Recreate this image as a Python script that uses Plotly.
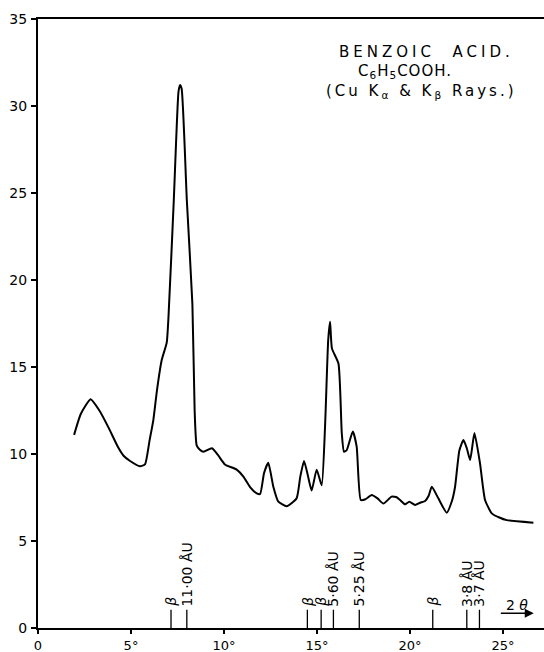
import plotly.graph_objects as go

# ---- data ----
two_theta = [1.94, 2.3, 2.83, 3.3, 3.8, 4.3, 4.6, 4.95, 5.48, 5.75, 6.0, 6.2, 6.4, 6.65, 6.92,
             7.02, 7.3, 7.55, 7.63, 7.72, 8.0, 8.3, 8.42, 8.53, 8.7, 8.9, 9.35, 9.7, 10.05,
             10.68, 11.04, 11.4, 11.76, 11.94, 12.15, 12.38, 12.65, 12.92, 13.37, 13.9, 14.1,
             14.3, 14.5, 14.71, 14.98, 15.25, 15.43, 15.6, 15.7, 15.8, 16.15, 16.33, 16.45,
             16.6, 16.92, 17.13, 17.35, 17.6, 17.94, 18.25, 18.57, 19.01, 19.3, 19.46, 19.73,
             19.96, 20.27, 20.54, 20.81, 21.0, 21.17, 21.52, 21.97, 22.25, 22.42, 22.65, 22.87,
             23.05, 23.23, 23.46, 23.76, 24.03, 24.39, 24.8, 25.2, 26.63]
intensity = [11.1, 12.3, 13.15, 12.5, 11.5, 10.4, 9.9, 9.6, 9.3, 9.4, 10.8, 11.95, 13.7, 15.4, 16.4,
             18.0, 24.6, 30.8, 31.2, 31.0, 24.6, 18.6, 12.5, 10.5, 10.25, 10.13, 10.33, 9.9, 9.4,
             9.1, 8.7, 8.1, 7.74, 7.7, 8.9, 9.5, 8.12, 7.26, 7.0, 7.45, 8.7,
             9.6, 8.8, 7.9, 9.1, 8.2, 11.57, 16.55, 17.6, 16.07, 15.2, 11.19, 10.13,
             10.23, 11.3, 10.42, 7.36, 7.4, 7.65, 7.45, 7.15, 7.55, 7.5, 7.36, 7.11,
             7.26, 7.07, 7.2, 7.3, 7.6, 8.12, 7.45, 6.63, 7.3, 8.12, 10.2, 10.8,
             10.33, 9.66, 11.2, 9.46, 7.36, 6.59, 6.35, 6.2, 6.05]

line_positions = [7.15, 8.0, 14.48, 15.22, 15.88, 17.27, 21.22, 23.05, 23.73]
line_labels = ["β", "11·00 ÅU", "β", "β", "5·60 ÅU", "5·25 ÅU", "β", "3·8 ÅU", "3·7 ÅU"]

x_tickvals = [0, 5, 10, 15, 20, 25]
x_ticktext = ["0", "5°", "10°", "15°", "20°", "25°"]
y_tickvals = [0, 5, 10, 15, 20, 25, 30, 35]

FONT = "DejaVu Sans"
MARK_H = 1.05

fig = go.Figure()
fig.add_trace(go.Scatter(x=two_theta, y=intensity, mode="lines",
                         line=dict(color="black", width=2, shape="spline", smoothing=0.5),
                         hoverinfo="skip", showlegend=False))

seg_x, seg_y = [], []
for p in line_positions:
    seg_x += [p, p, None]
    seg_y += [0, MARK_H, None]
fig.add_trace(go.Scatter(x=seg_x, y=seg_y, mode="lines",
                         line=dict(color="black", width=1.3),
                         hoverinfo="skip", showlegend=False))

annotations = []
for p, lab in zip(line_positions, line_labels):
    txt = "<i>β</i>" if lab == "β" else lab
    annotations.append(dict(x=p, y=MARK_H, xref="x", yref="y", text=txt, textangle=-90,
                            showarrow=False, xanchor="center", yanchor="bottom", yshift=1,
                            font=dict(family=FONT, size=14, color="black")))

# title block
annotations.append(dict(x=20.86, y=33.1, xref="x", yref="y", showarrow=False,
                        text='<span style="letter-spacing:4px">BENZOIC  ACID.</span>',
                        font=dict(family=FONT, size=15, color="black")))
annotations.append(dict(x=19.73, y=32.0, xref="x", yref="y", showarrow=False,
                        text='<span style="letter-spacing:1px">C<sub>6</sub>H<sub>5</sub>COOH.</span>',
                        font=dict(family=FONT, size=15, color="black")))
annotations.append(dict(x=20.6, y=30.85, xref="x", yref="y", showarrow=False,
                        text='<span style="letter-spacing:3px">(Cu K<sub>α</sub> & K<sub>β</sub> Rays.)</span>',
                        font=dict(family=FONT, size=15, color="black")))

# 2θ arrow
annotations.append(dict(x=25.75, y=1.3, xref="x", yref="y", showarrow=False,
                        text="2 <i>θ</i>", font=dict(family=FONT, size=14, color="black")))
annotations.append(dict(x=26.65, y=0.85, ax=24.8, ay=0.85, xref="x", yref="y",
                        axref="x", ayref="y", text="", showarrow=True,
                        arrowhead=2, arrowsize=1.2, arrowwidth=1.5, arrowcolor="black"))

fig.update_layout(
    width=544, height=652,
    margin=dict(l=38, r=0, t=19, b=24, autoexpand=False),
    paper_bgcolor="white", plot_bgcolor="white",
    annotations=annotations,
    xaxis=dict(range=[0, 27.2], showgrid=False, zeroline=False, automargin=False,
               showline=True, linecolor="black", linewidth=2, mirror=True,
               tickmode="array", tickvals=x_tickvals, ticktext=x_ticktext,
               ticks="outside", ticklen=4, tickwidth=1.5, tickcolor="black",
               ticklabelstandoff=0,
               tickfont=dict(family=FONT, size=13, color="black")),
    yaxis=dict(range=[0, 35], showgrid=False, zeroline=False, automargin=False,
               showline=True, linecolor="black", linewidth=2,
               tickmode="array", tickvals=y_tickvals,
               ticks="outside", ticklen=5, tickwidth=1.5, tickcolor="black",
               ticklabelstandoff=1,
               tickfont=dict(family=FONT, size=14, color="black")),
)

fig.write_html("out.html", config={"displayModeBar": False},
               post_script="document.body.style.margin='0';document.body.style.padding='0';")
